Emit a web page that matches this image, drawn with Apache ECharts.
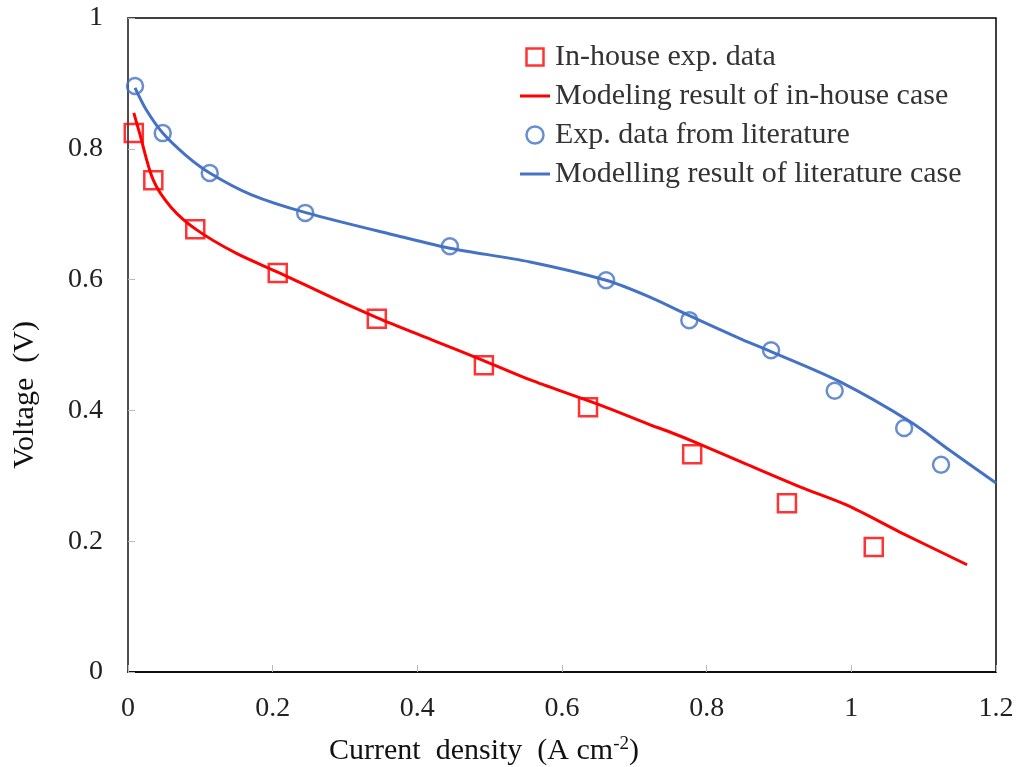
<!DOCTYPE html>
<html><head><meta charset="utf-8">
<script src="https://cdn.jsdelivr.net/npm/echarts@6/dist/echarts.min.js"></script>
<style>html,body{margin:0;padding:0;background:#fff}#c{width:1017px;height:767px}</style>
</head><body><div id="c"></div>
<script>
const seriesNames = ['In-house exp. data','Modeling result of in-house case','Exp. data from literature','Modelling result of literature case'];
const inhouseExp = [[0.008,0.824],[0.035,0.752],[0.093,0.677],[0.207,0.610],[0.344,0.540],[0.492,0.469],[0.636,0.405],[0.780,0.333],[0.911,0.258],[1.031,0.191]];
const inhouseModel = [[0.008,0.855],[0.016,0.824],[0.035,0.752],[0.06,0.71],[0.095,0.676],[0.15,0.64],[0.21,0.610],[0.283,0.572],[0.344,0.542],[0.42,0.508],[0.49,0.477],[0.56,0.445],[0.653,0.408],[0.722,0.378],[0.749,0.367],[0.787,0.350],[0.85,0.320],[0.929,0.283],[0.994,0.255],[1.067,0.214],[1.16,0.164]];
const litExp = [[0.0097,0.896],[0.048,0.824],[0.113,0.763],[0.245,0.702],[0.445,0.651],[0.661,0.599],[0.776,0.538],[0.889,0.492],[0.977,0.430],[1.073,0.373],[1.124,0.317]];
const litModel = [[0.0097,0.893],[0.025,0.86],[0.048,0.824],[0.08,0.79],[0.113,0.763],[0.17,0.73],[0.247,0.702],[0.376,0.666],[0.445,0.648],[0.556,0.627],[0.661,0.599],[0.72,0.574],[0.776,0.545],[0.85,0.508],[0.889,0.49],[0.984,0.444],[1.081,0.383],[1.136,0.339],[1.2,0.289]];
const xTitle = ['Current  density  (A cm','-2',')'];
const yTitle = 'Voltage  (V)';

const FONT = '"Liberation Serif", "Times New Roman", serif';
const RED = '#FF0000', BLUE = '#4472C4';
const SQ = 'path://M0,0h10v10h-10z';
const LN = 'path://M0,0h30v3h-30z';
const chart = echarts.init(document.getElementById('c'));
chart.setOption({
  backgroundColor: '#fff',
  animation: false,
  grid: {left:128, right:21, top:18, bottom:95, show:true, borderColor:'#000', borderWidth:1.5,
         containLabel:false, outerBoundsMode:'none'},
  legend: {
    orient:'vertical', left:515, top:37, itemGap:9, itemWidth:30, itemHeight:17,
    textStyle:{fontFamily:FONT, fontSize:30, color:'#333'},
    data: [
      {name:seriesNames[0], icon:SQ, itemStyle:{color:'rgba(255,255,255,0)', borderColor:RED, borderWidth:2.5}},
      {name:seriesNames[1], icon:LN, itemStyle:{color:RED, borderWidth:0}},
      {name:seriesNames[2], icon:'path://M10,5a5,5 0 1,1 -10,0a5,5 0 1,1 10,0z', itemStyle:{color:'rgba(255,255,255,0)', borderColor:BLUE, borderWidth:2.5}},
      {name:seriesNames[3], icon:LN, itemStyle:{color:BLUE, borderWidth:0}}
    ]
  },
  xAxis: {
    type:'value', min:0, max:1.2, interval:0.2,
    axisLine:{show:true, lineStyle:{color:'#000', width:1.5}},
    axisTick:{show:true, inside:true, length:7, lineStyle:{color:'#bbb'}},
    splitLine:{show:false},
    axisLabel:{fontFamily:FONT, fontSize:28, color:'#222', margin:23},
    name: '{a|'+xTitle[0]+'}{s|'+xTitle[1]+'}{a|'+xTitle[2]+'}',
    nameLocation:'middle', nameGap:63,
    nameTextStyle:{padding:[0,156,0,0], rich:{
      a:{fontFamily:FONT, fontSize:30, color:'#111'},
      s:{fontFamily:FONT, fontSize:19, color:'#111', verticalAlign:'top', padding:[0,0,13,0]}
    }}
  },
  yAxis: {
    type:'value', min:0, max:1, interval:0.2,
    axisLine:{show:true, lineStyle:{color:'#555', width:1.5}},
    axisTick:{show:true, inside:true, length:7, lineStyle:{color:'#bbb'}},
    splitLine:{show:false},
    axisLabel:{fontFamily:FONT, fontSize:28, color:'#222', margin:25},
    name: yTitle, nameLocation:'middle', nameGap:88,
    nameTextStyle:{fontFamily:FONT, fontSize:30, color:'#111', padding:[0,100,0,0]}
  },
  series: [
    {name:seriesNames[0], type:'scatter', data:inhouseExp, symbol:'rect', symbolSize:18,
     itemStyle:{color:'rgba(255,255,255,0)', borderColor:RED, borderWidth:2.5}, z:3},
    {name:seriesNames[1], type:'line', data:inhouseModel, smooth:0.3, symbol:'none',
     lineStyle:{color:RED, width:3}, itemStyle:{color:RED}, z:2},
    {name:seriesNames[2], type:'scatter', data:litExp, symbol:'circle', symbolSize:16,
     itemStyle:{color:'rgba(255,255,255,0)', borderColor:BLUE, borderWidth:2.5}, z:3},
    {name:seriesNames[3], type:'line', data:litModel, smooth:0.3, symbol:'none',
     lineStyle:{color:BLUE, width:3}, itemStyle:{color:BLUE}, z:2}
  ]
});
</script></body></html>
